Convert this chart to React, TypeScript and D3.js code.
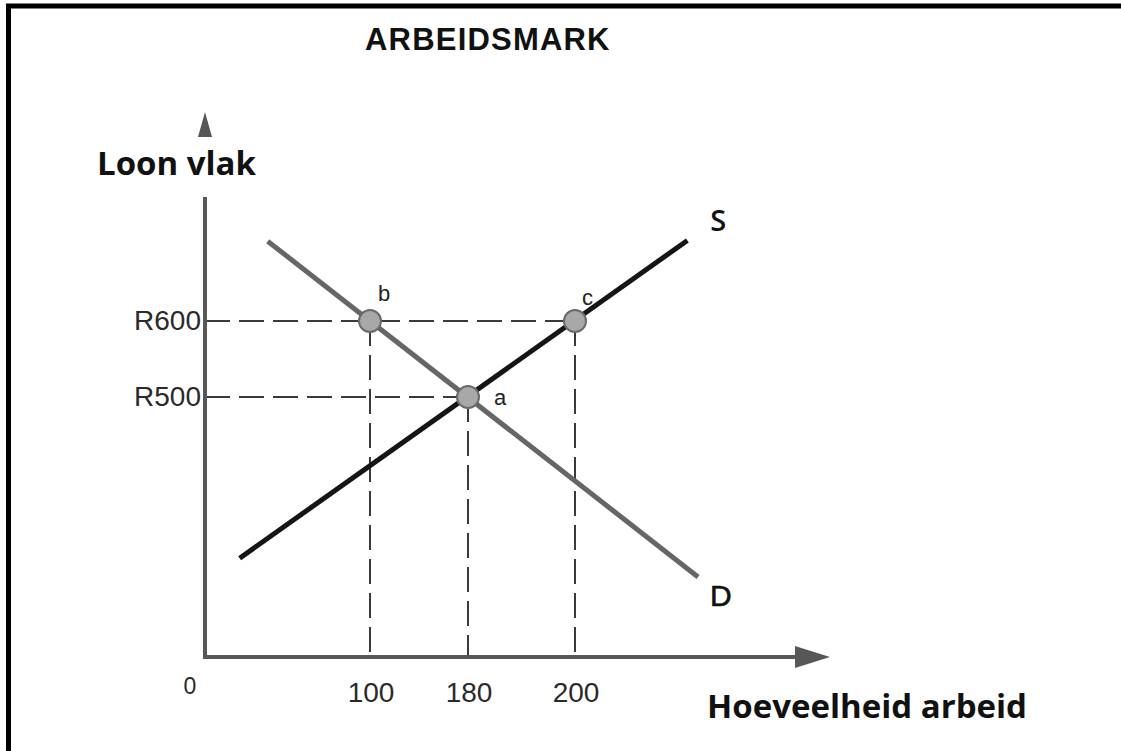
import React, { useEffect, useRef } from "react";
import * as d3 from "d3";

// axis values (the sketch is not to scale, so scales are piecewise)
const quantityTicks = [0, 100, 180, 200];
const wageTicks = [500, 600];
const wageLabels = ["R500", "R600"];

// marked points
const pointNames = ["b", "a", "c"];
const pointQuantity = [100, 180, 200];
const pointWage = [600, 500, 600];

// supply and demand lines, start and end in chart units
const supplyQuantity = [21, 221];
const supplyWage = [190, 706];
const demandQuantity = [38, 223];
const demandWage = [705, 154];

const title = "ARBEIDSMARK";
const yTitle = "Loon vlak";
const xTitle = "Hoeveelheid arbeid";

const W = 1121, H = 751;
const labelOffset: Record<string, [number, number]> = { b: [8, -20], a: [26, 8], c: [7, -16] };

export default function App() {
  const ref = useRef<SVGSVGElement>(null);

  useEffect(() => {
    const svg = d3.select(ref.current);
    svg.selectAll("*").remove();

    const x = d3.scaleLinear().domain(quantityTicks).range([205, 370, 468, 575]);
    const y = d3.scaleLinear().domain([0, ...wageTicks]).range([657, 397, 321]);

    // frame (top and left only)
    svg.append("path")
      .attr("d", `M8.5,${H} V6 H${W}`)
      .attr("fill", "none").attr("stroke", "#000").attr("stroke-width", 5);

    svg.append("text")
      .attr("x", 365).attr("y", 50)
      .attr("font-family", "'Liberation Sans', Arial, sans-serif")
      .attr("font-weight", 700).attr("font-size", 31).attr("letter-spacing", 1.2)
      .attr("fill", "#111")
      .text(title);

    const g = svg.append("g");

    // dashed guides
    const dash = g.append("g").attr("stroke", "#3a3a3a").attr("stroke-width", 2)
      .attr("stroke-dasharray", "25 9").attr("fill", "none");
    wageTicks.forEach((w) => {
      const maxQ = d3.max(pointQuantity.filter((_, i) => pointWage[i] === w)) as number;
      dash.append("line").attr("x1", x(0)).attr("x2", x(maxQ)).attr("y1", y(w)).attr("y2", y(w));
    });
    pointQuantity.forEach((q, i) => {
      dash.append("line").attr("x1", x(q)).attr("x2", x(q)).attr("y1", y(pointWage[i])).attr("y2", y(0));
    });

    // axes
    const axisColor = "#575757";
    g.append("line").attr("x1", x(0)).attr("x2", x(0)).attr("y1", y(0) + 2).attr("y2", 197)
      .attr("stroke", axisColor).attr("stroke-width", 4);
    g.append("line").attr("x1", x(0) - 2).attr("x2", 800).attr("y1", y(0)).attr("y2", y(0))
      .attr("stroke", axisColor).attr("stroke-width", 4);
    g.append("path").attr("d", `M${x(0) - 7},137 L${x(0)},112 L${x(0) + 7},137 Z`).attr("fill", axisColor);
    g.append("path").attr("d", `M795,${y(0) - 11} L830,${y(0)} L795,${y(0) + 11} Z`).attr("fill", axisColor);

    // tick labels
    const tickFont = "'Liberation Sans', Arial, sans-serif";
    g.selectAll(".ylab").data(wageTicks).join("text").attr("class", "ylab")
      .attr("x", x(0) - 4).attr("y", (d) => y(d) + 9)
      .attr("text-anchor", "end").attr("font-family", tickFont).attr("font-size", 28)
      .attr("fill", "#2a2a2a")
      .text((_, i) => wageLabels[i]);
    g.selectAll(".xlab").data(quantityTicks).join("text").attr("class", "xlab")
      .attr("x", (d) => (d === 0 ? x(d) - 15 : x(d) + 1)).attr("y", (d) => (d === 0 ? 694 : 702))
      .attr("text-anchor", "middle").attr("font-family", tickFont)
      .attr("font-size", (d) => (d === 0 ? 23 : 28)).attr("fill", "#2a2a2a")
      .text((d) => String(d));

    // axis titles
    const titleFont = "'Open Sans', sans-serif";
    g.append("text").attr("x", 97).attr("y", 175)
      .attr("font-family", titleFont).attr("font-weight", 700).attr("font-size", 33).attr("fill", "#111")
      .text(yTitle);
    g.append("text").attr("x", 707).attr("y", 718)
      .attr("font-family", titleFont).attr("font-weight", 700).attr("font-size", 33).attr("fill", "#111")
      .text(xTitle);

    // demand and supply
    const line = d3.line<[number, number]>().x((d) => x(d[0])).y((d) => y(d[1]));
    const demand = demandQuantity.map((q, i) => [q, demandWage[i]] as [number, number]);
    const supply = supplyQuantity.map((q, i) => [q, supplyWage[i]] as [number, number]);
    g.append("path").attr("d", line(demand)).attr("stroke", "#666").attr("stroke-width", 5).attr("fill", "none");
    g.append("path").attr("d", line(supply)).attr("stroke", "#151515").attr("stroke-width", 5).attr("fill", "none");

    g.append("text").attr("x", x(supply[1][0]) + 23).attr("y", y(supply[1][1]) - 9)
      .attr("font-family", titleFont).attr("font-weight", 600).attr("font-size", 29).attr("fill", "#111")
      .text("S");
    g.append("text").attr("x", x(demand[1][0]) + 12).attr("y", y(demand[1][1]) + 29)
      .attr("font-family", tickFont).attr("font-weight", 400).attr("font-size", 30).attr("fill", "#111")
      .attr("stroke", "#111").attr("stroke-width", 0.6)
      .text("D");

    // points
    g.selectAll(".pt").data(pointNames).join("circle").attr("class", "pt")
      .attr("cx", (_, i) => x(pointQuantity[i])).attr("cy", (_, i) => y(pointWage[i]))
      .attr("r", 11).attr("fill", "#a8a8a8").attr("stroke", "#6a6a6a").attr("stroke-width", 2);
    g.selectAll(".ptlab").data(pointNames).join("text").attr("class", "ptlab")
      .attr("x", (d, i) => x(pointQuantity[i]) + labelOffset[d][0])
      .attr("y", (d, i) => y(pointWage[i]) + labelOffset[d][1])
      .attr("font-family", tickFont).attr("font-size", 22).attr("fill", "#222")
      .text((d) => d);
  }, []);

  return (
    <svg ref={ref} width={W} height={H}
      style={{ position: "absolute", left: 0, top: 0, background: "#fff" }} />
  );
}
